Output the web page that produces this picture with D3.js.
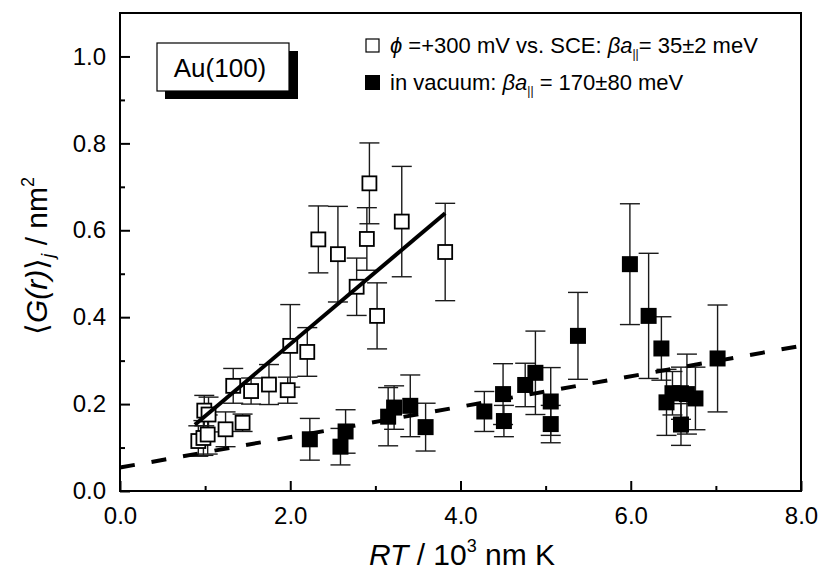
<!DOCTYPE html>
<html>
<head>
<meta charset="utf-8">
<script src="https://cdn.jsdelivr.net/npm/d3@7"></script>
<style>
  body { margin: 0; background: #fff; }
  svg { display: block; font-family: "Liberation Sans", Arial, Helvetica, sans-serif; }
</style>
</head>
<body>
<svg id="chart" width="821" height="573"></svg>
<script>
// Electrochemical environment, phi = +300 mV vs. SCE: [RT, <G(r)>, error]
const rtElectro = [0.92, 0.98, 1.03, 0.99, 1.04, 1.24, 1.33, 1.44, 1.54, 1.75, 1.97, 2.00, 2.20, 2.33, 2.56, 2.78, 2.90, 2.93, 3.02, 3.31, 3.82];
const gElectro  = [0.115, 0.122, 0.130, 0.185, 0.176, 0.142, 0.242, 0.157, 0.230, 0.245, 0.232, 0.334, 0.320, 0.579, 0.545, 0.470, 0.580, 0.708, 0.403, 0.620, 0.550];
const errElectro = [0.035, 0.040, 0.045, 0.035, 0.040, 0.040, 0.040, 0.020, 0.030, 0.046, 0.030, 0.095, 0.056, 0.077, 0.110, 0.066, 0.072, 0.093, 0.076, 0.127, 0.112];

// In vacuum
const rtVacuum = [2.23, 2.59, 2.65, 3.15, 3.22, 3.41, 3.59, 4.28, 4.50, 4.51, 4.76, 4.88, 5.06, 5.06, 5.38, 5.99, 6.21, 6.36, 6.42, 6.49, 6.59, 6.66, 6.76, 6.59, 7.02];
const gVacuum  = [0.119, 0.102, 0.137, 0.171, 0.192, 0.196, 0.147, 0.183, 0.223, 0.161, 0.244, 0.272, 0.206, 0.154, 0.357, 0.522, 0.403, 0.328, 0.204, 0.225, 0.225, 0.223, 0.213, 0.153, 0.305];
const errVacuum = [0.048, 0.042, 0.050, 0.067, 0.050, 0.071, 0.055, 0.046, 0.070, 0.036, 0.050, 0.096, 0.078, 0.043, 0.100, 0.139, 0.144, 0.073, 0.076, 0.050, 0.060, 0.092, 0.072, 0.048, 0.123];

// Linear fits: [intercept, slope, xStart, xEnd]
const fitElectro = [0.007, 0.1655, 0.88, 3.82];
const fitVacuum  = [0.054, 0.035, 0.0, 8.0];

// Axis ticks
const xMajor = [0, 2, 4, 6, 8];
const xMinor = [1, 3, 5, 7];
const yMajor = [0, 0.2, 0.4, 0.6, 0.8, 1.0];
const yMinor = [0.1, 0.3, 0.5, 0.7, 0.9];

const svg = d3.select("#chart");
const plotLeft = 120, plotRight = 801, plotTop = 13, plotBottom = 491;

const x = d3.scaleLinear().domain([0, 8]).range([plotLeft, plotRight]);
const y = d3.scaleLinear().domain([0, 1.1]).range([plotBottom, plotTop]);

const electro = rtElectro.map((v, i) => ({x: v, y: gElectro[i], e: errElectro[i]}));
const vacuum = rtVacuum.map((v, i) => ({x: v, y: gVacuum[i], e: errVacuum[i]}));

// Frame
svg.append("rect")
  .attr("x", plotLeft).attr("y", plotTop)
  .attr("width", plotRight - plotLeft).attr("height", plotBottom - plotTop)
  .attr("fill", "none").attr("stroke", "#000").attr("stroke-width", 2);

// Axes with inward ticks
const fmt = d3.format(".1f");
const xAxis = svg.append("g").attr("transform", `translate(0,${plotBottom})`)
  .call(d3.axisBottom(x).tickValues(xMajor).tickFormat(fmt).tickSizeInner(-10).tickSizeOuter(0).tickPadding(16));
const xAxisMinor = svg.append("g").attr("transform", `translate(0,${plotBottom})`)
  .call(d3.axisBottom(x).tickValues(xMinor).tickFormat("").tickSizeInner(-5).tickSizeOuter(0));
const yAxis = svg.append("g").attr("transform", `translate(${plotLeft},0)`)
  .call(d3.axisLeft(y).tickValues(yMajor).tickFormat(fmt).tickSizeInner(-10).tickSizeOuter(0).tickPadding(14));
const yAxisMinor = svg.append("g").attr("transform", `translate(${plotLeft},0)`)
  .call(d3.axisLeft(y).tickValues(yMinor).tickFormat("").tickSizeInner(-5).tickSizeOuter(0));

[xAxis, xAxisMinor, yAxis, yAxisMinor].forEach(g => {
  g.select(".domain").remove();
  g.selectAll(".tick line").attr("stroke", "#000").attr("stroke-width", 2);
  g.selectAll(".tick text").attr("fill", "#000")
    .style("font-family", "'Liberation Sans', Arial, sans-serif").style("font-size", "24px");
});

// Error bars
function errorBars(data, cls) {
  const g = svg.append("g").attr("class", cls)
    .attr("stroke", "#1a1a1a").attr("stroke-width", 1.4).attr("fill", "none");
  data.forEach(d => {
    const cx = x(d.x), y1 = y(d.y + d.e), y2 = y(d.y - d.e);
    g.append("line").attr("x1", cx).attr("x2", cx).attr("y1", y1).attr("y2", y2);
    g.append("line").attr("x1", cx - 10).attr("x2", cx + 10).attr("y1", y1).attr("y2", y1);
    g.append("line").attr("x1", cx - 10).attr("x2", cx + 10).attr("y1", y2).attr("y2", y2);
  });
}
errorBars(vacuum, "err-vacuum");
errorBars(electro, "err-electro");

// Markers
svg.append("g").selectAll("rect").data(vacuum).join("rect")
  .attr("x", d => x(d.x) - 8).attr("y", d => y(d.y) - 8)
  .attr("width", 16).attr("height", 16).attr("fill", "#000");

svg.append("g").selectAll("rect").data(electro).join("rect")
  .attr("x", d => x(d.x) - 7).attr("y", d => y(d.y) - 7)
  .attr("width", 14).attr("height", 14)
  .attr("fill", "#fff").attr("stroke", "#000").attr("stroke-width", 1.8);

// Fit lines
function fitLine(p, dash) {
  const [b, m, x0, x1] = p;
  svg.append("line")
    .attr("x1", x(x0)).attr("y1", y(b + m * x0))
    .attr("x2", x(x1)).attr("y2", y(b + m * x1))
    .attr("stroke", "#000").attr("stroke-width", 4)
    .attr("stroke-dasharray", dash);
}
fitLine(fitElectro, null);
fitLine(fitVacuum, "15 17");

// Sample label box with drop shadow
svg.append("rect").attr("x", 165).attr("y", 51).attr("width", 133).attr("height", 48).attr("fill", "#000");
svg.append("rect").attr("x", 157).attr("y", 43).attr("width", 132).attr("height", 48)
  .attr("fill", "#fff").attr("stroke", "#000").attr("stroke-width", 1.2);
svg.append("text").attr("x", 220).attr("y", 77).attr("text-anchor", "middle")
  .style("font-size", "26px").text("Au(100)");

// Legend
const lg = svg.append("g");
lg.append("rect").attr("x", 366).attr("y", 39).attr("width", 13).attr("height", 13)
  .attr("fill", "#fff").attr("stroke", "#000").attr("stroke-width", 1.2);
lg.append("rect").attr("x", 365).attr("y", 75).attr("width", 15).attr("height", 15).attr("fill", "#000");

const t1 = lg.append("text").attr("x", 390).attr("y", 53).style("font-size", "22px");
t1.append("tspan").style("font-style", "italic").text("\u03D5");
t1.append("tspan").text(" =+300 mV vs. SCE: ");
t1.append("tspan").style("font-style", "italic").text("\u03B2a");
t1.append("tspan").attr("dy", 5).style("font-size", "12px").text("||");
t1.append("tspan").attr("dy", -5).text("= 35\u00B12 meV");

const t2 = lg.append("text").attr("x", 390).attr("y", 90).style("font-size", "22px");
t2.append("tspan").text("in vacuum: ");
t2.append("tspan").style("font-style", "italic").text("\u03B2a");
t2.append("tspan").attr("dy", 5).style("font-size", "12px").text("||");
t2.append("tspan").attr("dy", -5).text(" = 170\u00B180 meV");

// Axis titles
const xt = svg.append("text").attr("x", 462).attr("y", 565).attr("text-anchor", "middle")
  .style("font-size", "30px");
xt.append("tspan").style("font-style", "italic").text("RT");
xt.append("tspan").text(" / 10");
xt.append("tspan").attr("dy", -13).style("font-size", "18px").text("3");
xt.append("tspan").attr("dy", 13).text(" nm K");

const yt = svg.append("text").attr("transform", "translate(47,256) rotate(-90)")
  .attr("text-anchor", "middle").style("font-size", "30px");
yt.append("tspan").text("\u27E8");
yt.append("tspan").style("font-style", "italic").text("G(r)");
yt.append("tspan").text("\u27E9");
yt.append("tspan").attr("dy", 7).style("font-size", "18px").style("font-style", "italic").text("j");
yt.append("tspan").attr("dy", -7).text(" / nm");
yt.append("tspan").attr("dy", -13).style("font-size", "18px").text("2");
</script>
</body>
</html>
